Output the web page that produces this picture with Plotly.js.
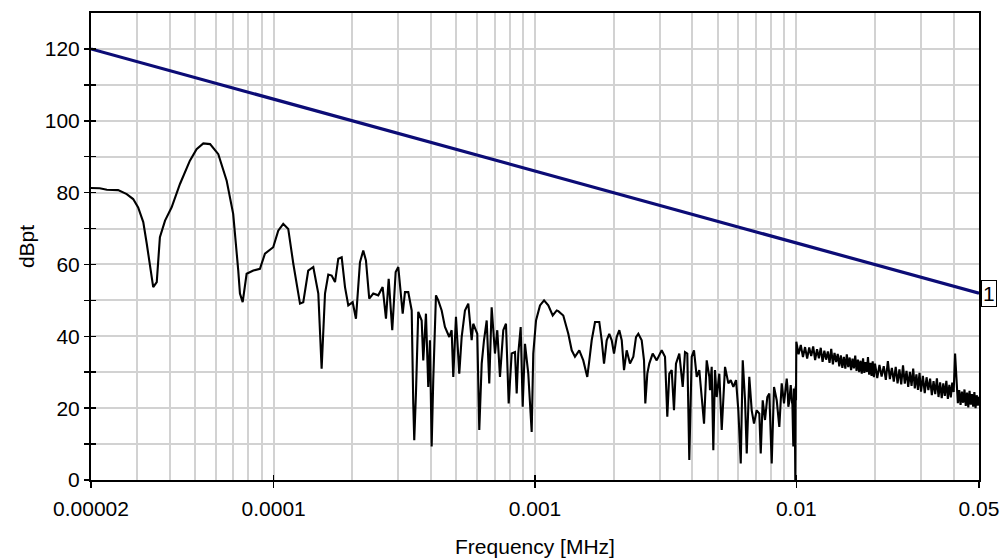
<!DOCTYPE html>
<html>
<head>
<meta charset="utf-8">
<script src="https://cdn.plot.ly/plotly-3.0.1.min.js"></script>
<style>html,body{margin:0;padding:0;background:#fff;}#chart{width:1001px;height:560px;}</style>
</head>
<body>
<div id="chart"></div>
<script>
// Measured spectrum (frequency in MHz, level in dBpt)
const freqMHz = [
0.0000200,0.0000216,0.0000230,0.0000254,0.0000274,0.0000290,0.0000303,0.0000317,0.0000327,0.0000336,
0.0000346,0.0000357,0.0000367,0.0000384,0.0000407,0.0000438,0.0000478,0.0000507,0.0000538,0.0000571,
0.0000614,0.0000661,0.0000700,0.0000732,0.0000743,0.0000761,0.0000788,0.0000836,0.0000886,0.0000926,
0.0000996,0.0001041,0.0001088,0.0001137,0.0001189,0.0001261,0.0001298,0.0001356,0.0001418,0.0001482,
0.0001526,0.0001572,0.0001618,0.0001667,0.0001717,0.0001767,0.0001821,0.0001875,0.0001930,0.0002006,
0.0002065,0.0002139,0.0002202,0.0002255,0.0002321,0.0002405,0.0002513,0.0002612,0.0002690,0.0002755,
0.0002843,0.0002930,0.0002998,0.0003117,0.0003180,0.0003274,0.0003374,0.0003421,0.0003451,0.0003503,
0.0003575,0.0003684,0.0003736,0.0003826,0.0003904,0.0003963,0.0004023,0.0004080,0.0004179,0.0004264,
0.0004394,0.0004523,0.0004699,0.0004798,0.0004867,0.0004984,0.0005131,0.0005241,0.0005395,0.0005555,
0.0005723,0.0005804,0.0006013,0.0006120,0.0006252,0.0006380,0.0006534,0.0006683,0.0006826,0.0007028,
0.0007172,0.0007345,0.0007561,0.0007743,0.0007930,0.0008141,0.0008383,0.0008510,0.0008630,0.0008815,
0.0008971,0.0009155,0.0009425,0.0009712,0.0009849,0.001009,0.001045,0.001083,0.001124,0.001169,
0.001211,0.001228,0.001283,0.001341,0.001382,0.001422,0.001477,0.001530,0.001585,0.001614,
0.001648,0.001697,0.001762,0.001800,0.001837,0.001881,0.001924,0.001966,0.002006,0.002054,
0.002102,0.002147,0.002191,0.002243,0.002309,0.002378,0.002435,0.002485,0.002560,0.002613,
0.002643,0.002690,0.002737,0.002820,0.002922,0.003053,0.003144,0.003208,0.003265,0.003335,
0.003403,0.003463,0.003566,0.003675,0.003750,0.003826,0.003894,0.003978,0.004059,0.004157,
0.004253,0.004344,0.004434,0.004540,0.004645,0.004674,0.004744,0.004812,0.004884,0.004958,
0.005073,0.005182,0.005335,0.005494,0.005611,0.005741,0.005879,0.005999,0.006127,0.006236,
0.006364,0.006460,0.006607,0.006749,0.006887,0.007053,0.007217,0.007307,0.007436,0.007588,
0.007744,0.007881,0.008050,0.008215,0.008413,0.008607,0.008790,0.008971,0.009050,0.009188,
0.009250,0.009318,0.009380,0.009458,0.009520,0.009601,0.009660,0.009737,0.009780,0.009822,
0.009860,0.009910,0.009940,0.009970,
0.0100,0.0102,0.0104,0.0106,0.0108,0.0110,0.0112,0.0114,0.0116,0.0118,
0.0120,0.0122,0.0124,0.0126,0.0128,0.0130,0.0132,0.0134,0.0136,0.0138,
0.0140,0.0142,0.0144,0.0146,0.0148,0.0150,0.0152,0.0154,0.0156,0.0158,
0.0160,0.0162,0.0164,0.0166,0.0168,0.0170,0.0172,0.0174,0.0176,0.0178,
0.0180,0.0182,0.0184,0.0186,0.0188,0.0190,0.0192,0.0194,0.0196,0.0198,
0.0200,0.0204,0.0208,0.0212,0.0216,0.0220,0.0224,0.0228,0.0232,0.0236,
0.0240,0.0244,0.0248,0.0252,0.0256,0.0260,0.0264,0.0268,0.0272,0.0276,
0.0280,0.0284,0.0288,0.0292,0.0296,0.0300,0.0305,0.0310,0.0315,0.0320,
0.0325,0.0330,0.0335,0.0340,0.0345,0.0350,0.0355,0.0360,0.0365,0.0370,
0.0375,0.0380,0.0385,0.0390,0.0395,0.0400,0.0405,0.0410,0.0415,0.0420,
0.0425,0.0430,0.0435,0.0440,0.0445,0.0450,0.0455,0.0460,0.0465,0.0470,
0.0475,0.0480,0.0485,0.0490,0.0495,0.0500
];
const levelDbpt = [
81.3,81.2,80.8,80.7,79.6,78.2,75.9,71.8,65.7,59.3,
53.7,55.1,67.6,72.2,75.9,82.4,88.9,92.1,93.7,93.5,
90.7,83.3,74.1,58.3,51.9,49.5,57.4,58.3,58.8,63.0,
64.8,69.4,71.3,69.9,60.2,49.1,49.5,58.3,59.3,51.9,
31.0,51.9,57.2,56.9,55.1,61.6,62.0,53.7,48.6,49.5,
44.9,60.6,63.9,61.1,50.5,51.9,51.4,53.7,44.9,56.0,
41.7,57.9,59.3,46.3,52.3,52.3,47.2,21.3,11.1,24.1,
46.8,44.4,33.3,46.3,25.9,38.9,9.3,27.8,51.4,50.0,
47.2,42.6,39.8,41.7,28.7,45.4,29.6,39.8,47.2,49.1,
38.9,43.5,40.7,13.9,32.4,38.9,44.4,26.9,48.1,35.2,
41.7,28.7,41.7,43.5,21.3,35.2,35.6,24.1,35.2,42.6,
20.4,37.9,29.6,13.4,35.2,44.4,48.6,50.0,48.6,45.8,
47.2,47.0,45.8,40.7,36.1,34.3,36.1,33.3,28.7,33.3,
38.9,44.0,44.0,38.9,32.4,38.9,40.7,38.9,35.2,39.8,
41.7,38.9,30.6,36.1,32.4,34.3,39.8,40.7,38.9,33.3,
21.3,29.6,32.4,35.2,33.3,36.1,34.3,17.6,29.6,30.6,
19.4,32.4,35.2,25.9,35.6,35.2,5.6,34.3,36.1,28.7,
30.6,23.1,15.7,33.3,28.7,25.0,31.5,8.3,30.6,23.1,
29.6,13.9,31.5,26.9,27.8,25.9,27.8,19.4,4.6,33.3,
22.2,7.4,28.7,19.4,15.7,19.4,18.5,7.4,22.2,16.7,
23.1,24.1,4.6,25.9,22.2,14.8,26.9,21.3,23.5,28.2,
25.8,20.4,21.5,25.0,26.4,22.2,21.0,9.3,25.5,22.2,
20.8,0.0,26.0,22.2,
38.5,35.0,37.6,34.2,37.0,33.8,36.9,34.5,37.2,33.4,
36.4,33.9,36.8,32.9,36.0,33.5,35.8,32.6,36.5,32.2,
35.4,32.8,35.1,31.6,34.7,31.2,34.3,31.0,35.0,31.4,
34.1,30.6,33.8,31.1,34.6,30.4,33.5,30.0,33.2,29.6,
33.9,29.8,32.8,30.1,34.2,29.3,32.6,29.0,33.0,28.6,
32.4,28.4,32.0,28.8,31.7,27.9,33.1,28.1,31.2,27.4,
31.5,26.9,30.8,26.6,31.9,26.8,30.4,25.9,30.1,26.2,
31.0,25.5,29.4,25.1,29.8,24.6,29.0,24.2,28.6,25.0,
28.2,23.6,27.5,23.9,28.3,23.1,27.2,22.8,26.9,23.4,
27.6,22.6,26.5,23.0,27.1,24.5,35.2,25.8,21.4,25.0,
20.9,24.6,21.5,25.2,20.6,24.3,20.2,24.8,21.0,23.9,
20.4,24.5,20.0,23.6,20.7,23.2
];
// Limit line "1"
const limitFreqMHz = [0.00002, 0.05];
const limitDbpt = [120, 52];
const limitLabel = '1';
// Axis ticks and grid
const xTickVals = [0.00002, 0.0001, 0.001, 0.01, 0.05];
const xTickText = ['0.00002', '0.0001', '0.001', '0.01', '0.05'];
const xGridVals = [0.00003,0.00004,0.00005,0.00006,0.00007,0.00008,0.00009,
  0.0002,0.0003,0.0004,0.0005,0.0006,0.0007,0.0008,0.0009,
  0.002,0.003,0.004,0.005,0.006,0.007,0.008,0.009,
  0.02,0.03,0.04];
const yTickVals = [0,10,20,30,40,50,60,70,80,90,100,110,120];
const yTickText = ['0','','20','','40','','60','','80','','100','','120'];
const yRange = [0, 130];

const FONT = 'Liberation Sans, Arial, sans-serif';
const xRange = [Math.log10(xTickVals[0]), Math.log10(xTickVals[xTickVals.length - 1])];

const traces = [
  {x: freqMHz, y: levelDbpt, type: 'scatter', mode: 'lines',
   line: {color: '#000000', width: 2.1}, hoverinfo: 'x+y'},
  {x: limitFreqMHz, y: limitDbpt, type: 'scatter', mode: 'lines', xaxis: 'x2', yaxis: 'y2',
   line: {color: '#0c0c76', width: 3.2}, hoverinfo: 'x+y'}
];

const gridColor = '#d2d2d2';
const gridW = 2;
const layout = {
  width: 1001, height: 560,
  margin: {l: 91, r: 22, t: 13, b: 80, pad: 0},
  paper_bgcolor: '#ffffff', plot_bgcolor: '#ffffff',
  showlegend: false,
  font: {family: FONT, size: 21, color: '#000000'},
  xaxis: {
    type: 'log', range: xRange, automargin: false,
    tickmode: 'array', tickvals: xTickVals, ticktext: xTickText,
    ticks: 'outside', ticklen: 6, tickwidth: 1.5, tickcolor: '#000',
    ticklabelstandoff: 3,
    showline: true, linecolor: '#000', linewidth: 2, mirror: true,
    showgrid: true, gridcolor: gridColor, gridwidth: gridW, zeroline: false,
    minor: {tickmode: 'array', tickvals: xGridVals, ticks: '', showgrid: true,
            gridcolor: gridColor, gridwidth: gridW},
    tickfont: {family: FONT, size: 21, color: '#000'},
    title: {text: 'Frequency [MHz]', font: {family: FONT, size: 21, color: '#000'}, standoff: 20}
  },
  yaxis: {
    range: yRange, automargin: false,
    tickmode: 'array', tickvals: yTickVals, ticktext: yTickText,
    ticks: 'outside', ticklen: 5, tickwidth: 1.5, tickcolor: '#000',
    ticklabelstandoff: 0,
    showline: true, linecolor: '#000', linewidth: 2, mirror: true,
    showgrid: true, gridcolor: gridColor, gridwidth: gridW, zeroline: false,
    tickfont: {family: FONT, size: 21, color: '#000'},
    title: {text: 'dBpt', font: {family: FONT, size: 21, color: '#000'}, standoff: 4}
  },
  xaxis2: {
    type: 'log', range: xRange, overlaying: 'x', anchor: 'y2', side: 'bottom',
    tickmode: 'array', tickvals: xTickVals, ticks: 'inside', ticklen: 5, tickwidth: 1.5, tickcolor: '#000',
    showticklabels: false, showgrid: false, showline: false, zeroline: false
  },
  yaxis2: {
    range: yRange, overlaying: 'y', anchor: 'x2', side: 'left',
    tickmode: 'array', tickvals: yTickVals, ticks: 'inside', ticklen: 5, tickwidth: 1.5, tickcolor: '#000',
    showticklabels: false, showgrid: false, showline: false, zeroline: false
  },
  annotations: [{
    x: Math.log10(limitFreqMHz[1]), y: limitDbpt[1], xref: 'x', yref: 'y',
    text: limitLabel, showarrow: false, xanchor: 'left', yanchor: 'middle', xshift: 2,
    bordercolor: '#000', borderwidth: 1, borderpad: 1, bgcolor: '#fff',
    font: {family: FONT, size: 21, color: '#000'}
  }]
};

Plotly.newPlot('chart', traces, layout, {displayModeBar: false, staticPlot: true});
</script>
</body>
</html>
